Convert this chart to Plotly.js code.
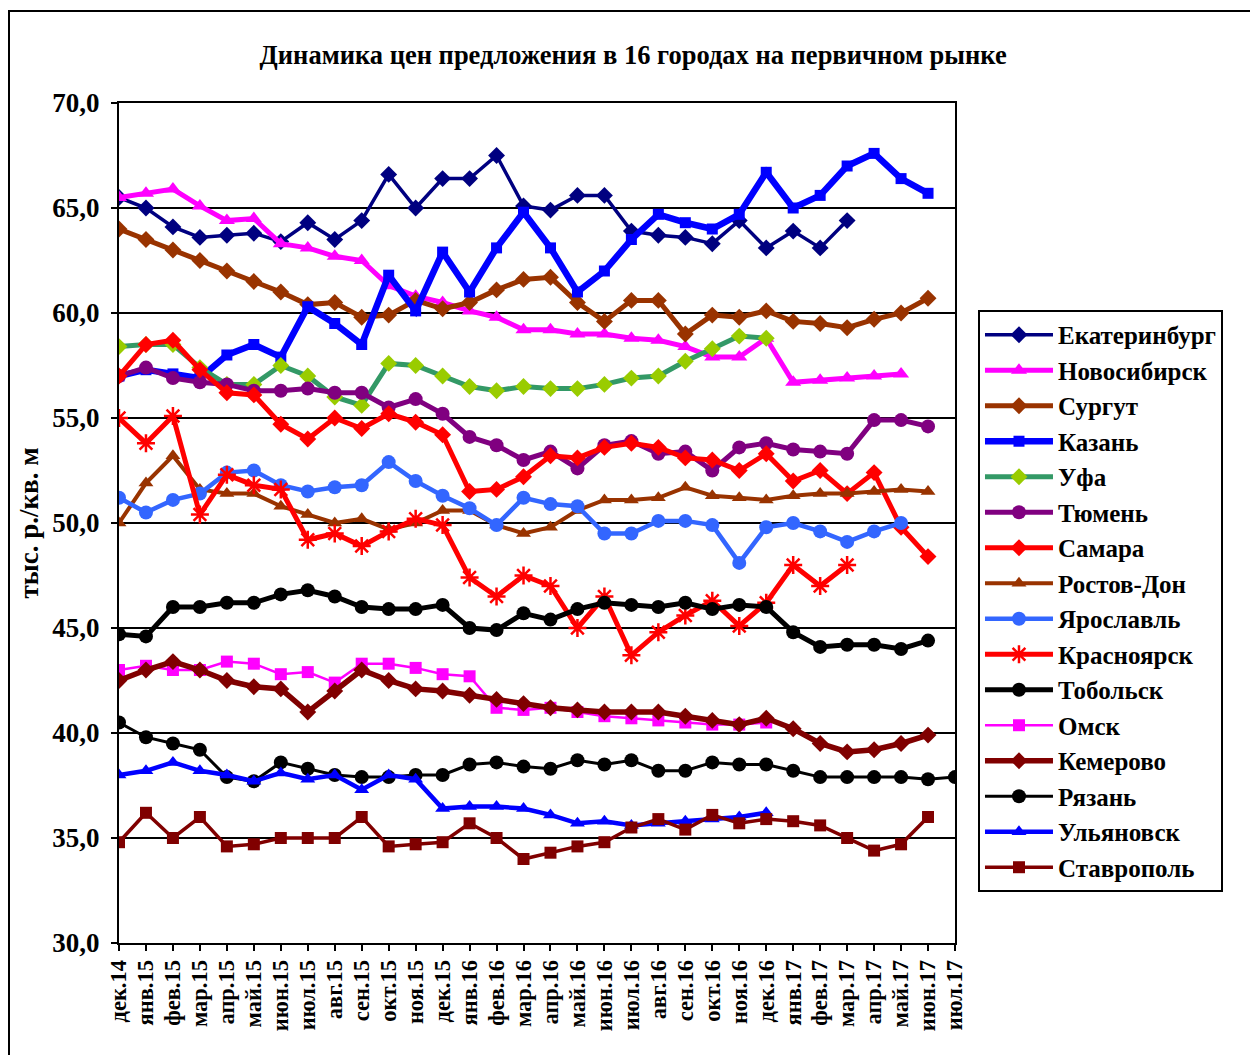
<!DOCTYPE html>
<html>
<head>
<meta charset="utf-8">
<script src="https://cdn.plot.ly/plotly-3.0.1.min.js"></script>
<style>
  html, body { margin: 0; padding: 0; background: #fff; }
  #wrap { position: relative; width: 1250px; height: 1055px; overflow: hidden; }
  #frame { position: absolute; left: 8px; top: 10px; width: 1260px; height: 1060px; border: 2px solid #000; box-sizing: border-box; pointer-events: none; }
  #chart { position: absolute; left: 0; top: 0; width: 1250px; height: 1055px; }
</style>
</head>
<body>
<div id="wrap">
  <div id="chart"></div>
  <div id="frame"></div>
</div>
<script>
const months = ["дек.14","янв.15","фев.15","мар.15","апр.15","май.15","июн.15","июл.15","авг.15","сен.15","окт.15","ноя.15",
  "дек.15","янв.16","фев.16","мар.16","апр.16","май.16","июн.16","июл.16","авг.16","сен.16","окт.16","ноя.16",
  "дек.16","янв.17","фев.17","мар.17","апр.17","май.17","июн.17","июл.17"];

const ekaterinburg = [65.5, 65.0, 64.1, 63.6, 63.7, 63.8, 63.4, 64.3, 63.5, 64.4, 66.6, 65.0, 66.4, 66.4, 67.5, 65.1, 64.9, 65.6, 65.6, 63.9, 63.7, 63.6, 63.3, 64.4, 63.1, 63.9, 63.1, 64.4];
const novosibirsk = [65.5, 65.7, 65.9, 65.1, 64.4, 64.5, 63.3, 63.1, 62.7, 62.5, 61.3, 60.8, 60.5, 60.1, 59.8, 59.2, 59.2, 59.0, 59.0, 58.8, 58.7, 58.4, 57.9, 57.9, 58.8, 56.7, 56.8, 56.9, 57.0, 57.1];
const surgut = [64.0, 63.5, 63.0, 62.5, 62.0, 61.5, 61.0, 60.4, 60.5, 59.8, 59.9, 60.6, 60.2, 60.5, 61.1, 61.6, 61.7, 60.5, 59.6, 60.6, 60.6, 59.0, 59.9, 59.8, 60.1, 59.6, 59.5, 59.3, 59.7, 60.0, 60.7];
const kazan = [57.0, 57.3, 57.1, 56.9, 58.0, 58.5, 57.9, 60.3, 59.5, 58.5, 61.8, 60.1, 62.9, 61.0, 63.1, 64.8, 63.1, 61.0, 62.0, 63.5, 64.7, 64.3, 64.0, 64.7, 66.7, 65.0, 65.6, 67.0, 67.6, 66.4, 65.7];
const ufa = [58.4, 58.5, 58.5, 57.4, 56.6, 56.6, 57.5, 57.0, 56.0, 55.6, 57.6, 57.5, 57.0, 56.5, 56.3, 56.5, 56.4, 56.4, 56.6, 56.9, 57.0, 57.7, 58.3, 58.9, 58.8];
const tyumen = [57.0, 57.4, 56.9, 56.7, 56.6, 56.3, 56.3, 56.4, 56.2, 56.2, 55.5, 55.9, 55.2, 54.1, 53.7, 53.0, 53.4, 52.6, 53.7, 53.9, 53.3, 53.4, 52.5, 53.6, 53.8, 53.5, 53.4, 53.3, 54.9, 54.9, 54.6];
const samara = [57.0, 58.5, 58.7, 57.3, 56.2, 56.1, 54.7, 54.0, 55.0, 54.5, 55.2, 54.8, 54.2, 51.5, 51.6, 52.2, 53.2, 53.1, 53.6, 53.8, 53.6, 53.1, 53.0, 52.5, 53.3, 52.0, 52.5, 51.4, 52.4, 49.8, 48.4];
const rostov = [50.0, 51.9, 53.2, 51.6, 51.4, 51.4, 50.8, 50.4, 50.0, 50.2, 49.7, 50.0, 50.6, 50.6, 49.9, 49.5, 49.8, 50.6, 51.1, 51.1, 51.2, 51.7, 51.3, 51.2, 51.1, 51.3, 51.4, 51.4, 51.5, 51.6, 51.5];
const yaroslavl = [51.2, 50.5, 51.1, 51.4, 52.4, 52.5, 51.8, 51.5, 51.7, 51.8, 52.9, 52.0, 51.3, 50.7, 49.9, 51.2, 50.9, 50.8, 49.5, 49.5, 50.1, 50.1, 49.9, 48.1, 49.8, 50.0, 49.6, 49.1, 49.6, 50.0];
const krasnoyarsk = [55.0, 53.8, 55.1, 50.4, 52.3, 51.8, 51.6, 49.2, 49.5, 48.9, 49.6, 50.2, 49.9, 47.4, 46.5, 47.5, 47.0, 45.0, 46.5, 43.7, 44.8, 45.6, 46.3, 45.1, 46.2, 48.0, 47.0, 48.0];
const tobolsk = [44.7, 44.6, 46.0, 46.0, 46.2, 46.2, 46.6, 46.8, 46.5, 46.0, 45.9, 45.9, 46.1, 45.0, 44.9, 45.7, 45.4, 45.9, 46.2, 46.1, 46.0, 46.2, 45.9, 46.1, 46.0, 44.8, 44.1, 44.2, 44.2, 44.0, 44.4];
const omsk = [43.0, 43.2, 43.0, 43.0, 43.4, 43.3, 42.8, 42.9, 42.4, 43.3, 43.3, 43.1, 42.8, 42.7, 41.2, 41.1, 41.2, 41.0, 40.8, 40.7, 40.6, 40.5, 40.4, 40.4, 40.5];
const kemerovo = [42.5, 43.0, 43.4, 43.0, 42.5, 42.2, 42.1, 41.0, 42.0, 43.0, 42.5, 42.1, 42.0, 41.8, 41.6, 41.4, 41.2, 41.1, 41.0, 41.0, 41.0, 40.8, 40.6, 40.4, 40.7, 40.2, 39.5, 39.1, 39.2, 39.5, 39.9];
const ryazan = [40.5, 39.8, 39.5, 39.2, 37.9, 37.7, 38.6, 38.3, 38.0, 37.9, 37.9, 38.0, 38.0, 38.5, 38.6, 38.4, 38.3, 38.7, 38.5, 38.7, 38.2, 38.2, 38.6, 38.5, 38.5, 38.2, 37.9, 37.9, 37.9, 37.9, 37.8, 37.9];
const ulyanovsk = [38.0, 38.2, 38.6, 38.2, 38.0, 37.7, 38.1, 37.8, 38.0, 37.3, 38.0, 37.8, 36.4, 36.5, 36.5, 36.4, 36.1, 35.7, 35.8, 35.6, 35.7, 35.8, 35.9, 36.0, 36.2];
const stavropol = [34.8, 36.2, 35.0, 36.0, 34.6, 34.7, 35.0, 35.0, 35.0, 36.0, 34.6, 34.7, 34.8, 35.7, 35.0, 34.0, 34.3, 34.6, 34.8, 35.5, 35.9, 35.4, 36.1, 35.7, 35.9, 35.8, 35.6, 35.0, 34.4, 34.7, 36.0];

const seriesNames = ["Екатеринбург","Новосибирск","Сургут","Казань","Уфа","Тюмень","Самара","Ростов-Дон","Ярославль","Красноярск","Тобольск","Омск","Кемерово","Рязань","Ульяновск","Ставрополь"];
const seriesData = [ekaterinburg, novosibirsk, surgut, kazan, ufa, tyumen, samara, rostov, yaroslavl, krasnoyarsk, tobolsk, omsk, kemerovo, ryazan, ulyanovsk, stavropol];

const styles = [
  {lc:"#000080", mc:"#000080", sym:"diamond", lw:3.5, ms:13},
  {lc:"#FF00FF", mc:"#FF00FF", sym:"triangle-up", lw:5, ms:14},
  {lc:"#993300", mc:"#993300", sym:"diamond", lw:5, ms:13},
  {lc:"#0000FF", mc:"#0000FF", sym:"square", lw:6.5, ms:11},
  {lc:"#339966", mc:"#99CC00", sym:"diamond", lw:5, ms:13},
  {lc:"#800080", mc:"#800080", sym:"circle", lw:5, ms:14},
  {lc:"#FF0000", mc:"#FF0000", sym:"diamond", lw:5, ms:13},
  {lc:"#993300", mc:"#993300", sym:"triangle-up", lw:4, ms:13},
  {lc:"#3366FF", mc:"#3366FF", sym:"circle", lw:4.5, ms:14},
  {lc:"#FF0000", mc:"#FF0000", sym:"asterisk-open", lw:5, ms:15},
  {lc:"#000000", mc:"#000000", sym:"circle", lw:5, ms:14},
  {lc:"#FF00FF", mc:"#FF00FF", sym:"square", lw:2.5, ms:12},
  {lc:"#800000", mc:"#800000", sym:"diamond", lw:5.5, ms:13},
  {lc:"#000000", mc:"#000000", sym:"circle", lw:3, ms:14},
  {lc:"#0000FF", mc:"#0000FF", sym:"triangle-up", lw:4.5, ms:13},
  {lc:"#800000", mc:"#800000", sym:"square", lw:3.5, ms:12}
];

const FONT = "Liberation Serif, Times New Roman, serif";

const traces = seriesNames.map((name, i) => {
  const s = styles[i];
  const vals = seriesData[i];
  const marker = {symbol: s.sym, size: s.ms, color: s.mc};
  if (s.sym === "asterisk-open") marker.line = {color: s.mc, width: 2.5};
  return {
    type: "scatter", mode: "lines+markers", name: name,
    x: months.slice(0, vals.length), y: vals,
    line: {color: s.lc, width: s.lw},
    marker: marker,
    hoverinfo: "x+y+name"
  };
});

const layout = {
  width: 1250, height: 1055,
  margin: {l: 119, r: 295, t: 103, b: 112},
  paper_bgcolor: "#ffffff", plot_bgcolor: "#ffffff",
  separators: ", ",
  font: {family: FONT, color: "#000", weight: "bold"},
  title: {text: "Динамика цен предложения в 16 городах на первичном рынке",
    font: {family: FONT, size: 26.5, color: "#000", weight: "bold"},
    xref: "paper", x: 0.615, xanchor: "center", yref: "container", y: 0.948, yanchor: "middle"},
  xaxis: {
    type: "category", categoryorder: "array", categoryarray: months,
    range: [0, 31], showgrid: false, zeroline: false,
    showline: true, linecolor: "#000", linewidth: 2, mirror: true,
    ticks: "outside", ticklen: 6, tickwidth: 2, tickcolor: "#000",
    tickangle: -90, tickfont: {family: FONT, size: 22.5, color: "#000", weight: "bold"},
    tickmode: "array", tickvals: months, ticktext: months
  },
  yaxis: {
    range: [30, 70], dtick: 5, tick0: 30, tickformat: ".1f",
    showgrid: true, gridcolor: "#000", gridwidth: 2, zeroline: false,
    showline: true, linecolor: "#000", linewidth: 2, mirror: true,
    ticks: "outside", ticklen: 6, tickwidth: 2, tickcolor: "#000",
    ticklabelstandoff: 6,
    tickfont: {family: FONT, size: 27, color: "#000", weight: "bold"},
    title: {text: "тыс. р./кв. м", font: {family: FONT, size: 27, color: "#000", weight: "bold"}, standoff: 6}
  },
  legend: {
    x: 1.0275, xanchor: "left", y: 0.7536, yanchor: "top",
    bgcolor: "#fff", bordercolor: "#000", borderwidth: 2,
    font: {family: FONT, size: 25, color: "#000", weight: "bold"},
    traceorder: "normal", itemwidth: 68
  },
  showlegend: true
};

Plotly.newPlot("chart", traces, layout, {displayModeBar: false, staticPlot: true});
</script>
</body>
</html>
